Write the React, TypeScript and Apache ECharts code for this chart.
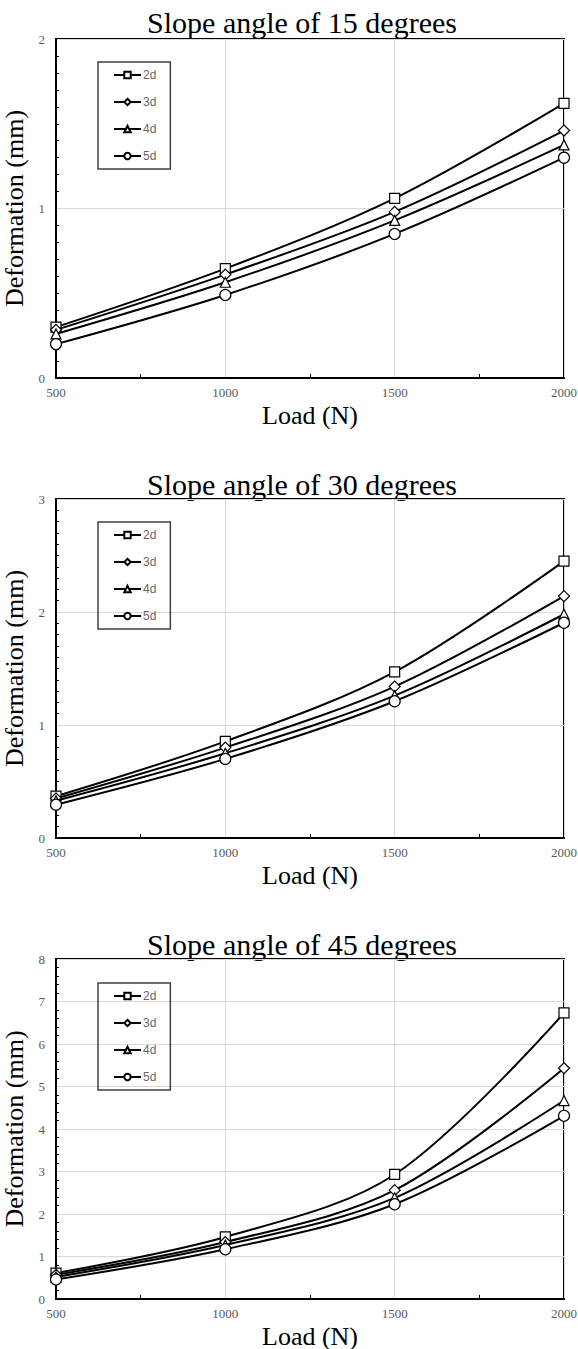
import React, { useEffect, useRef } from "react";
import * as echarts from "echarts";

const loads = [500, 1000, 1500, 2000];
const seriesNames = ["2d", "3d", "4d", "5d"];
const symbols = ["rect", "diamond", "triangle", "circle"];
const symbolSizes = [10, 11, 10, 11];
const titles = ["Slope angle of 15 degrees", "Slope angle of 30 degrees", "Slope angle of 45 degrees"];
const yMax = [2, 3, 8];
const yMinorSplit = [10, 10, 5];

const deg15_2d = [0.3, 0.645, 1.06, 1.62];
const deg15_3d = [0.284, 0.61, 0.98, 1.46];
const deg15_4d = [0.26, 0.565, 0.93, 1.375];
const deg15_5d = [0.2, 0.49, 0.85, 1.3];

const deg30_2d = [0.37, 0.855, 1.47, 2.45];
const deg30_3d = [0.35, 0.8, 1.34, 2.14];
const deg30_4d = [0.33, 0.75, 1.26, 1.98];
const deg30_5d = [0.295, 0.7, 1.21, 1.905];

const deg45_2d = [0.61, 1.46, 2.93, 6.73];
const deg45_3d = [0.57, 1.34, 2.56, 5.43];
const deg45_4d = [0.52, 1.27, 2.38, 4.67];
const deg45_5d = [0.46, 1.17, 2.23, 4.31];

const panels = [
  [deg15_2d, deg15_3d, deg15_4d, deg15_5d],
  [deg30_2d, deg30_3d, deg30_4d, deg30_5d],
  [deg45_2d, deg45_3d, deg45_4d, deg45_5d],
];

// layout
const gridTops = [39, 499, 959];
const gridHeights = [339, 339, 340];
const titleYs = [22, 484, 944];
const legendTops = [62, 522, 983];

const SERIF = "Liberation Serif";
const SANS = "Liberation Sans";

export default function App() {
  const ref = useRef<HTMLDivElement>(null);
  useEffect(() => {
    if (!ref.current) return;
    const chart = echarts.init(ref.current, undefined, { renderer: "svg" });

    const grid = gridTops.map((top, i) => ({
      left: 56,
      top,
      width: 508,
      height: gridHeights[i],
      outerBoundsMode: "none",
      containLabel: false,
      show: true,
      borderColor: "#000",
      borderWidth: 2,
      backgroundColor: "transparent",
    }));

    const xAxis = gridTops.map((_, i) => ({
      type: "value",
      gridIndex: i,
      min: 500,
      max: 2000,
      interval: 500,
      name: "Load (N)",
      nameLocation: "middle",
      nameGap: 24,
      nameTextStyle: { fontFamily: SERIF, fontSize: 26, color: "#000" },
      axisLine: { show: true, lineStyle: { color: "#000", width: 2 } },
      axisTick: { show: false, inside: true },
      minorTick: { show: true, splitNumber: 2, length: 4, lineStyle: { color: "#000", width: 1 } },
      axisLabel: {
        fontFamily: SERIF,
        fontSize: 13,
        color: "#595959",
        margin: 8,
        formatter: (v: number) => String(v),
      },
      splitLine: { show: true, lineStyle: { color: "#d9d9d9", width: 1 } },
    }));

    const yAxis = gridTops.map((_, i) => ({
      type: "value",
      gridIndex: i,
      min: 0,
      max: yMax[i],
      interval: 1,
      name: "Deformation (mm)",
      nameLocation: "middle",
      nameGap: 16,
      nameTextStyle: { fontFamily: SERIF, fontSize: 26, color: "#000" },
      axisLine: { show: true, lineStyle: { color: "#000", width: 2 } },
      axisTick: { show: false, inside: true },
      minorTick: { show: true, splitNumber: yMinorSplit[i], length: 3, lineStyle: { color: "#000", width: 1 } },
      axisLabel: { fontFamily: SERIF, fontSize: 13, color: "#595959", margin: 11 },
      splitLine: { show: true, lineStyle: { color: "#d9d9d9", width: 1 } },
    }));

    const series: any[] = [];
    panels.forEach((vals, p) => {
      vals.forEach((arr, s) => {
        series.push({
          type: "line",
          name: seriesNames[s],
          xAxisIndex: p,
          yAxisIndex: p,
          data: loads.map((x, k) => [x, arr[k]]),
          smooth: 0.33,
          symbol: symbols[s],
          symbolSize: symbolSizes[s],
          showSymbol: true,
          lineStyle: { color: "#000", width: 2 },
          itemStyle: { color: "#fff", borderColor: "#000", borderWidth: 1.2 },
          z: 2 + s,
        });
      });
    });

    const legend = legendTops.map((top) => ({
      data: seriesNames,
      orient: "vertical",
      left: 98,
      top,
      padding: [7, 14, 7, 15],
      itemGap: 15,
      itemWidth: 27,
      itemHeight: 8,
      borderColor: "#404040",
      borderWidth: 1.5,
      selectedMode: false,
      textStyle: { fontFamily: SANS, fontSize: 12, color: "#666666", padding: [0, 0, 0, -3] },
    }));

    const graphic = titles.map((t, i) => ({
      type: "text",
      x: 302,
      y: titleYs[i],
      style: {
        text: t,
        font: `30px "${SERIF}"`,
        fill: "#000",
        align: "center",
        verticalAlign: "middle",
      },
    }));

    chart.setOption({
      animation: false,
      backgroundColor: "#fff",
      grid,
      xAxis,
      yAxis,
      legend,
      series,
      graphic,
    });
    return () => chart.dispose();
  }, []);

  return (
    <div
      ref={ref}
      style={{ position: "absolute", left: 0, top: 0, width: 578, height: 1349, background: "#fff" }}
    />
  );
}
